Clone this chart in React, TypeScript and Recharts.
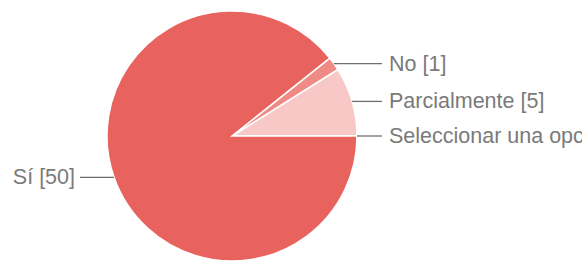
import React from 'react';
import { PieChart, Pie, Cell } from 'recharts';

const categories = ['Seleccionar una opción', 'Parcialmente', 'No', 'Sí'];
const values = [0, 5, 1, 50];
const colors = ['#e8625e', '#f7c8c5', '#ef8a86', '#e8625e'];

const data = categories.map((name, i) => ({ name, value: values[i] }));

const RADIAN = Math.PI / 180;

const renderLabel = (props: any) => {
  const { cx, cy, midAngle, outerRadius, name, value } = props;
  const cos = Math.cos(-midAngle * RADIAN);
  const sin = Math.sin(-midAngle * RADIAN);
  const x0 = cx + outerRadius * cos;
  const y0 = cy + outerRadius * sin;
  const right = cos >= 0;
  const x1 = right ? cx + outerRadius + 25 : cx - outerRadius - 27;
  const tx = right ? x1 + 7 : x1 - 5;
  return (
    <g>
      <line x1={x0} y1={y0} x2={x1} y2={y0} stroke="#6e6e6e" strokeWidth={1.3} />
      <text
        x={tx}
        y={y0}
        fill="#7a7a7a"
        fontSize={21.5}
        fontFamily="'Liberation Sans', Arial, sans-serif"
        textAnchor={right ? 'start' : 'end'}
        dominantBaseline="central"
      >
        {`${name} [${value}]`}
      </text>
    </g>
  );
};

export default function App() {
  return (
    <div style={{ position: 'absolute', left: 0, top: 0, width: 582, height: 261, background: '#fff' }}>
      <PieChart width={582} height={261} margin={{ top: 0, right: 0, bottom: 0, left: 0 }}>
        <Pie
          data={data}
          dataKey="value"
          nameKey="name"
          cx={232}
          cy={136}
          outerRadius={125}
          startAngle={0}
          endAngle={360}
          stroke="#ffffff"
          strokeWidth={1.5}
          label={renderLabel}
          labelLine={false}
          isAnimationActive={false}
        >
          {data.map((d, i) => (
            <Cell key={d.name} fill={colors[i]} />
          ))}
        </Pie>
      </PieChart>
    </div>
  );
}
